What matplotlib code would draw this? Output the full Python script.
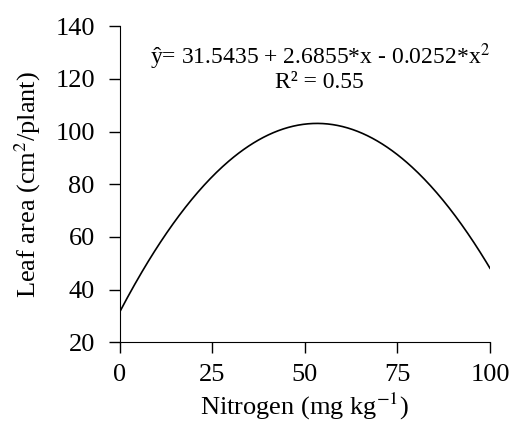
import numpy as np
import matplotlib.pyplot as plt

# fitted equation as printed on the chart
coef = [-0.0252, 2.6855, 31.5435]   # x^2, x, const
x_range = [0, 100]
r2 = 0.55
x_ticks = [0, 25, 50, 75, 100]
y_ticks = [20, 40, 60, 80, 100, 120, 140]

plt.rcParams['font.family'] = ['Liberation Serif', 'DejaVu Serif']
plt.rcParams['mathtext.fontset'] = 'stix'

fig = plt.figure(figsize=(5.12, 4.23), dpi=100)
ax = fig.add_axes([0.234, 0.191, 0.723, 0.747])

x = np.linspace(x_range[0], x_range[1], 300)
y = np.polyval(coef, x)
ax.plot(x, y, color='black', lw=1.2)

ax.set_xlim(0, 100)
ax.set_ylim(20, 140)
ax.set_xticks(x_ticks)
ax.set_yticks(y_ticks)
ax.spines['top'].set_visible(False)
ax.spines['right'].set_visible(False)
ax.tick_params(axis='y', direction='out', length=8, width=1, labelsize=19, pad=10)
ax.tick_params(axis='x', direction='out', length=8, width=1, labelsize=19, pad=8)

ax.set_xlabel('Nitrogen (mg kg$^{-1}$)', fontsize=19, labelpad=3)
ax.set_ylabel('Leaf area (cm$^{2}$/plant)', fontsize=19, labelpad=9)

eq = 'ŷ= %.4f + %.4f*x - %.4f*x$^{2}$' % (coef[2], coef[1], -coef[0])
ax.text(54, 128.3, eq, ha='center', va='center', fontsize=17)
ax.text(54, 118.7, 'R² = %.2f' % r2, ha='center', va='center', fontsize=17)

fig.savefig('out.png', dpi=100)
